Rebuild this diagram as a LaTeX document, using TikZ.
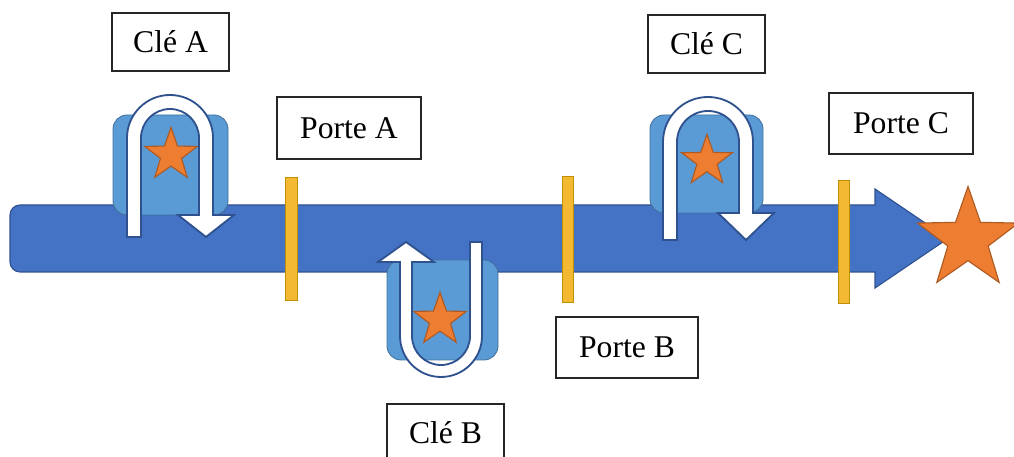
\documentclass[tikz,border=0pt]{standalone}
\usepackage{fontspec}
\setmainfont{Liberation Serif}
\usepackage{tikz}
\usetikzlibrary{shapes.geometric}
\definecolor{trackblue}{RGB}{68,114,196}
\definecolor{trackedge}{RGB}{47,82,143}
\definecolor{keyblue}{RGB}{91,155,213}
\definecolor{keyedge}{RGB}{65,113,156}
\definecolor{gateyellow}{RGB}{244,185,50}
\definecolor{gateedge}{RGB}{191,144,0}
\definecolor{starorange}{RGB}{237,125,49}
\definecolor{staredge}{RGB}{174,90,33}

\begin{document}
\begin{tikzpicture}[x=0.025cm, y=0.025cm,
  labelbox/.style={draw=black!85, line width=0.9pt, fill=white, inner sep=0pt, font=\fontsize{22.5}{27}\selectfont},
  gatebar/.style={draw=gateedge, line width=0.6pt, fill=gateyellow},
  keybox/.style={draw=keyedge, line width=0.6pt, fill=keyblue, rounded corners=0.35cm},
  prize/.style={star, star points=5, star point ratio=2.5, draw=staredge, line width=0.8pt, fill=starorange, inner sep=0pt},
  uturn/.style={draw=trackedge, line width=1.3pt, fill=white, line join=miter}]
  \useasboundingbox (0,0) rectangle (1014,457);
  \draw[trackedge, line width=0.8pt, fill=trackblue] (875,252) -- (875,268) -- (948,218.5) -- (875,169) -- (875,185) -- (20,185) arc[start angle=270, end angle=180, radius=10] -- (10,242) arc[start angle=180, end angle=90, radius=10] -- cycle;
  \draw[keybox] (113,242) rectangle (228,342);
  \draw[keybox] (387,97) rectangle (498,197);
  \draw[keybox] (650,244) rectangle (763,342);
  \draw[gatebar] (285,157) rectangle (297,280);
  \draw[gatebar] (562,155) rectangle (573,281);
  \draw[gatebar] (838,154) rectangle (849,277);
  \node[prize, minimum size=1.38cm] (starA) at (171,302) {};
  \node[prize, minimum size=1.38cm] (starB) at (440,137) {};
  \node[prize, minimum size=1.33cm] (starC) at (707,296) {};
  \node[prize, minimum size=2.65cm] (goal) at (968,217.5) {};
  \draw[uturn] (127,220) -- (127,319) arc[start angle=180, end angle=0, radius=43] -- (213,242) -- (234,242) -- (206,220) -- (178,242) -- (199,242) -- (199,319) arc[start angle=0, end angle=180, radius=29] -- (141,220) -- cycle;
  \draw[uturn] (482,215) -- (482,121) arc[start angle=0, end angle=-180, radius=41] -- (400,195) -- (378,195) -- (406,215) -- (434,195) -- (412,195) -- (412,121) arc[start angle=180, end angle=360, radius=29] -- (470,215) -- cycle;
  \draw[uturn] (663,217) -- (663,315) arc[start angle=180, end angle=0, radius=45] -- (753,244) -- (774,244) -- (746,217) -- (718,244) -- (739,244) -- (739,315) arc[start angle=0, end angle=180, radius=31] -- (677,217) -- cycle;
  \node[labelbox, minimum width=2.93cm, minimum height=1.45cm] (keyA) at (170.5,415) {Clé A};
  \node[labelbox, minimum width=3.6cm, minimum height=1.55cm] (gateA) at (349,329) {Porte A};
  \node[labelbox, minimum width=2.93cm, minimum height=1.45cm] (keyB) at (445.5,24) {Clé B};
  \node[labelbox, minimum width=3.55cm, minimum height=1.52cm] (gateB) at (627,109.5) {Porte B};
  \node[labelbox, minimum width=2.93cm, minimum height=1.45cm] (keyC) at (706.5,413) {Clé C};
  \node[labelbox, minimum width=3.6cm, minimum height=1.52cm] (gateC) at (901,333.5) {Porte C};
\end{tikzpicture}
\end{document}
